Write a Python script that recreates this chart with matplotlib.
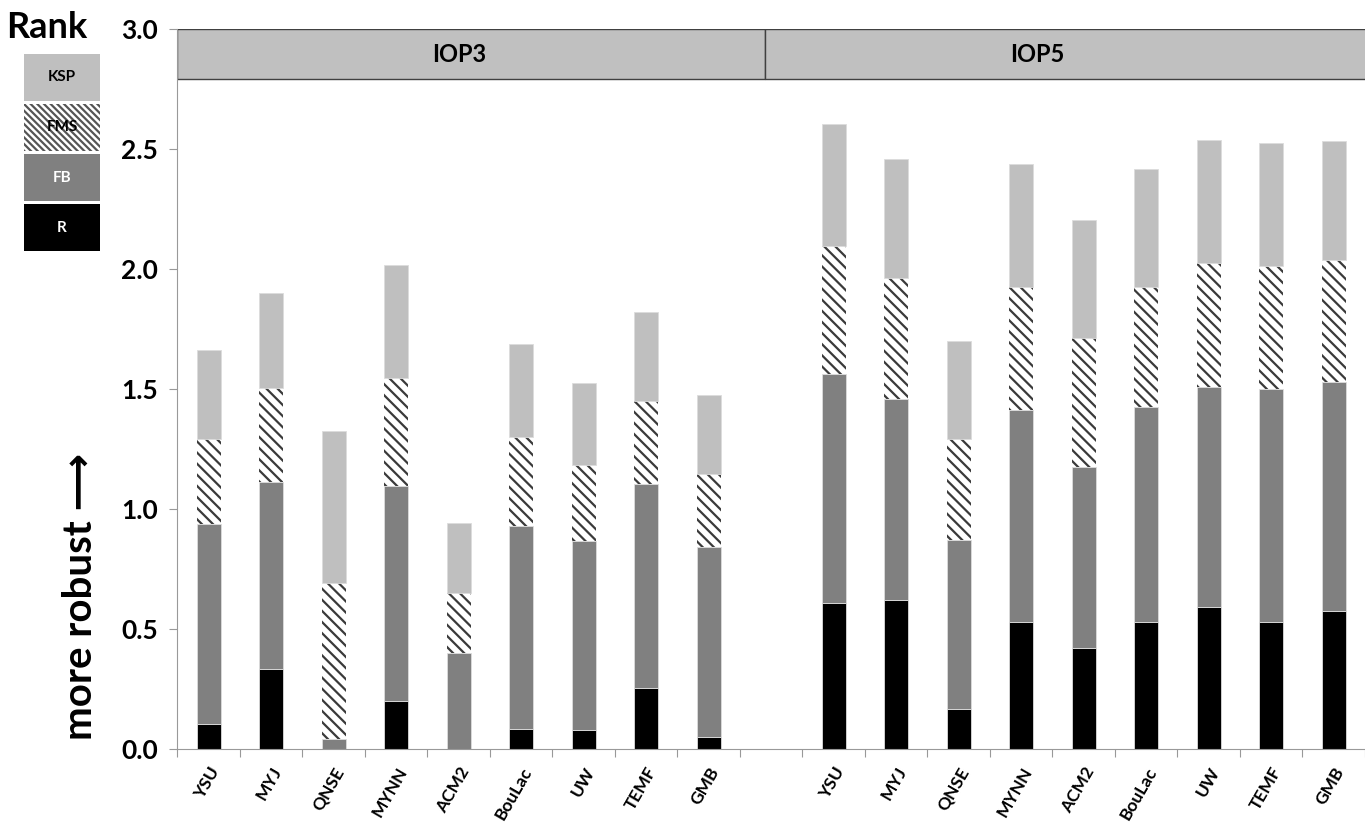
import numpy as np
import matplotlib.pyplot as plt
from matplotlib.patches import Rectangle

plt.rcParams['font.family'] = ['Lato', 'DejaVu Sans']
plt.rcParams['hatch.linewidth'] = 1.6

models = ['YSU', 'MYJ', 'QNSE', 'MYNN', 'ACM2', 'BouLac', 'UW', 'TEMF', 'GMB']

# segment heights per rank metric (IOP3)
r_iop3 = [0.105, 0.332, 0.000, 0.199, 0.000, 0.084, 0.079, 0.256, 0.051]
fb_iop3 = [0.834, 0.782, 0.042, 0.897, 0.398, 0.845, 0.789, 0.848, 0.791]
fms_iop3 = [0.352, 0.390, 0.649, 0.451, 0.252, 0.373, 0.316, 0.348, 0.305]
ksp_iop3 = [0.370, 0.395, 0.636, 0.471, 0.290, 0.386, 0.340, 0.369, 0.327]

# IOP5
r_iop5 = [0.608, 0.622, 0.166, 0.529, 0.419, 0.529, 0.590, 0.529, 0.573]
fb_iop5 = [0.953, 0.836, 0.703, 0.882, 0.758, 0.894, 0.920, 0.969, 0.957]
fms_iop5 = [0.533, 0.506, 0.421, 0.515, 0.537, 0.503, 0.516, 0.515, 0.506]
ksp_iop5 = [0.510, 0.496, 0.410, 0.510, 0.489, 0.492, 0.511, 0.512, 0.498]

cases = ['IOP3', 'IOP5']
ranks = ['KSP', 'FMS', 'FB', 'R']


def run_main():
    fig = plt.figure(figsize=(13.65, 8.26), dpi=100)
    ax = fig.add_axes([0.130, 0.0932, 0.870, 0.8717])

    labels = models + [''] + models
    x = np.arange(len(labels))
    r = np.array(r_iop3 + [0] + r_iop5)
    fb = np.array(fb_iop3 + [0] + fb_iop5)
    fms = np.array(fms_iop3 + [0] + fms_iop5)
    ksp = np.array(ksp_iop3 + [0] + ksp_iop5)
    keep = np.array([l != '' for l in labels])
    x, r, fb, fms, ksp = x[keep], r[keep], fb[keep], fms[keep], ksp[keep]

    w = 0.38
    ec = '#dcdcdc'
    ax.bar(x, r, w, color='black', edgecolor=ec, lw=0.6)
    ax.bar(x, fb, w, bottom=r, color='#808080', edgecolor=ec, lw=0.6)
    ax.bar(x, fms, w, bottom=r + fb, color='white', edgecolor='#3a3a3a',
           hatch='\\\\\\', lw=0)
    ax.bar(x, ksp, w, bottom=r + fb + fms, color='#bfbfbf', edgecolor=ec, lw=0.6)

    # header band
    ax.add_patch(Rectangle((-0.5, 2.79), 9.4, 0.21, fc='#c0c0c0', ec='#404040', lw=1))
    ax.add_patch(Rectangle((8.9, 2.79), 12, 0.21, fc='#c0c0c0', ec='#404040', lw=1))
    ax.text(4.0, 2.895, cases[0], ha='center', va='center', fontsize=17, fontweight='bold')
    ax.text(13.26, 2.895, cases[1], ha='center', va='center', fontsize=17, fontweight='bold')

    ax.set_xlim(-0.5, 18.33)
    ax.set_ylim(0, 3.0)
    ax.set_yticks(np.arange(0, 3.01, 0.5))
    ax.set_yticklabels(['%.1f' % v for v in np.arange(0, 3.01, 0.5)],
                       fontsize=19, fontweight='bold')
    ax.set_xticks(np.arange(-0.5, 18.6, 1.0))
    ax.set_xticklabels([])
    ax.set_xticks(np.arange(len(labels)), minor=True)
    ax.set_xticklabels(labels, minor=True, rotation=60, ha='right',
                       rotation_mode='anchor', fontsize=12.5, fontweight='bold')
    ax.tick_params(axis='x', which='minor', length=0, pad=11)
    ax.tick_params(axis='x', which='major', length=6, color='#999999', direction='out')
    ax.tick_params(axis='y', length=6, color='#999999', direction='out', pad=8)
    for s in ['top', 'right']:
        ax.spines[s].set_visible(False)
    for s in ['left', 'bottom']:
        ax.spines[s].set_color('#999999')

    fig.text(80 / 1365, 1 - 596 / 826, 'more robust \u27f6', rotation=90,
             ha='center', va='center', fontsize=29, fontweight='bold')

    # legend
    fig.text(6 / 1365, 1 - 27 / 826, 'Rank', ha='left', va='center',
             fontsize=26, fontweight='bold')
    ax_leg = fig.add_axes([24 / 1365, 1 - 253 / 826, 76 / 1365, 201 / 826])
    ax_leg.set_xlim(0, 1)
    ax_leg.set_ylim(0, 4)
    ax_leg.axis('off')
    leg_style = {
        'KSP': dict(fc='#bfbfbf', ec='none', tc='black'),
        'FMS': dict(fc='white', ec='#555555', tc='black', hatch='\\\\\\\\\\'),
        'FB': dict(fc='#808080', ec='none', tc='white'),
        'R': dict(fc='black', ec='none', tc='white'),
    }
    for i, name in enumerate(ranks):
        st = leg_style[name]
        y0 = 3 - i
        ax_leg.add_patch(Rectangle((0, y0 + 0.03), 1, 0.94, fc=st['fc'], ec=st['ec'],
                                   lw=0, hatch=st.get('hatch')))
        ax_leg.text(0.5, y0 + 0.5, name, ha='center', va='center',
                    fontsize=11, fontweight='bold', color=st['tc'])

    fig.savefig('out.png', dpi=100)
    return ''


if __name__ == '__main__':
    run_main()
